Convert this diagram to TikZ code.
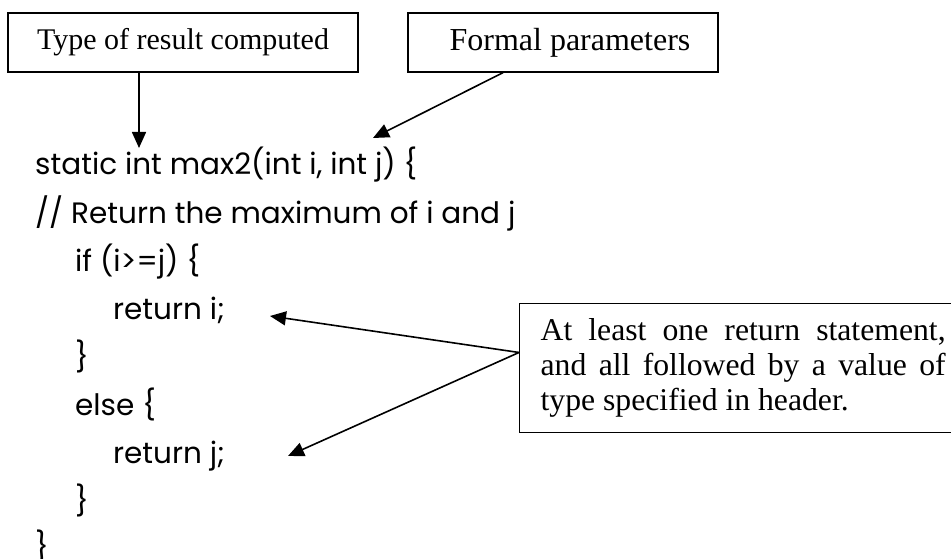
\documentclass[tikz,border=0pt]{standalone}
\usepackage{fontspec}
\setmainfont{Liberation Serif}
\newfontfamily\codefont{Poppins}
\usetikzlibrary{arrows.meta}

\begin{document}
\begin{tikzpicture}[x=1pt, y=-1pt,
  note/.style={draw, line width=1.3pt, font=\fontsize{31.7}{35}\selectfont,
               inner sep=0pt, align=center, minimum height=59pt},
  code/.style={anchor=base west, inner sep=0pt, font=\codefont\fontsize{29.5}{35}\selectfont},
  arr/.style={-{Triangle[length=16pt, width=14pt]}, line width=1.6pt},
]
\useasboundingbox (0,0) rectangle (951,559);

% --- Callout boxes ---
\node[note, minimum width=350pt, font=\fontsize{30}{35}\selectfont] (tr) at (183,42.5)
  {Type of result computed};
\node[note, minimum width=310pt, font=\fontsize{32}{35}\selectfont] (fp) at (563,42.5)
  {\hspace*{14pt}Formal parameters};
\node[note, anchor=north west, text width=405pt, align=justify, inner xsep=21pt,
      minimum height=129pt] (rs) at (519,303)
  {At least one return statement, and all followed by a value of type specified in header.};

% --- Method source ---
\node[code] (l1) at (35,175) {static int max2(int i, int j) \{};
\node[code] (l2) at (35,223) {// Return the maximum of i and j};
\node[code] (l3) at (75,271) {if (i>=j) \{};
\node[code] (l4) at (113,319) {return i;};
\node[code] (l5) at (75,367) {\}};
\node[code] (l6) at (75,415) {else \{};
\node[code] (l7) at (113,463) {return j;};
\node[code] (l8) at (75,511) {\}};
\node[code] (l9) at (35,557) {\}};

% --- Arrow targets ---
\coordinate (t1) at (139,148);
\coordinate (t2) at (373,138);
\coordinate (t3) at (270,316);
\coordinate (t4) at (288,456);

\draw[arr] (tr.south -| t1) -- (t1);
\draw[arr] (fp) -- (t2);
\draw[arr] (rs.176) -- (t3);
\draw[arr] (rs.176) -- (t4);
\end{tikzpicture}
\end{document}
